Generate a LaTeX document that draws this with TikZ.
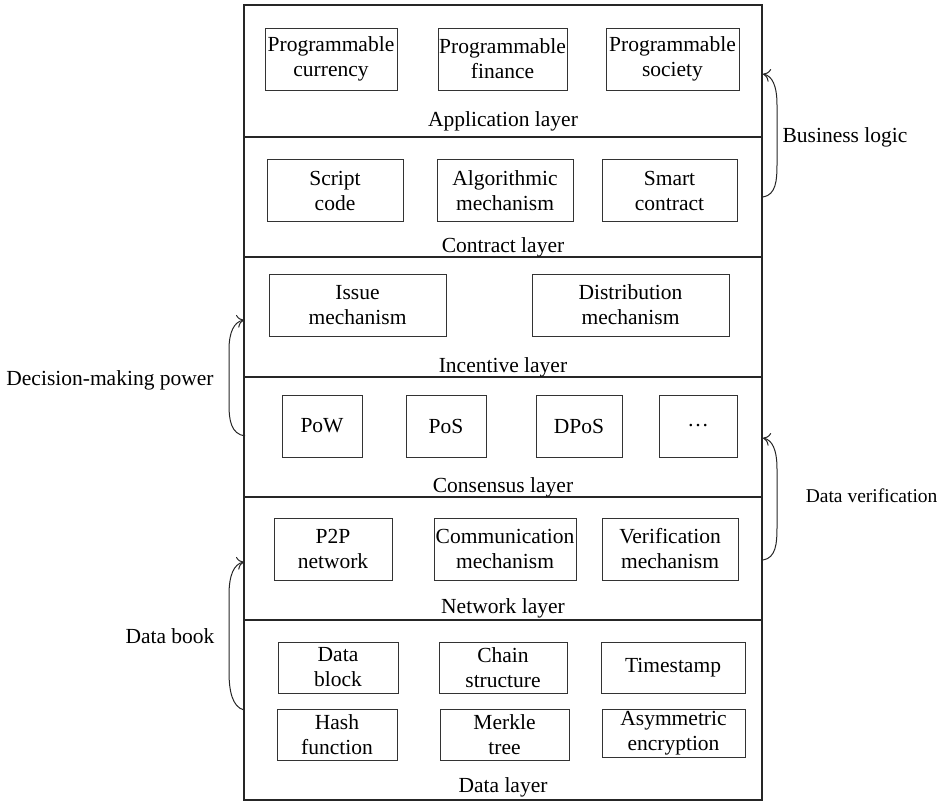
\documentclass[tikz,border=0pt]{standalone}
\usepackage{fontspec}
\setmainfont{Liberation Serif}
\usepackage{tikz}
\usetikzlibrary{arrows.meta}

\begin{document}
\begin{tikzpicture}[x=1pt,y=-1pt,line width=1pt,
  font=\fontsize{21.5}{25}\selectfont,
  blk/.style={draw=black!80,align=center,inner sep=0pt,minimum height=62},
  lyr/.style={anchor=center},
  side/.style={anchor=center},
  curvarr/.style={black!85,-{To[length=7pt,width=13pt]}}]
\useasboundingbox (0,0) rectangle (938,803);
% outer frame and layer dividers
\draw[line width=1.2pt,black!85] (244,5) rectangle (762,800);
\foreach \y in {137,257,377,497,620}
  \draw[line width=1.2pt,black!85] (244,\y)--(762,\y);
% application layer
\node[blk,minimum width=132] (cur) at (331,59) {Programmable\\currency};
\node[blk,minimum width=129] (fin) at (502.5,59) {Programmable\\finance};
\node[blk,minimum width=133] (soc) at (672.5,59) {Programmable\\society};
\node[lyr] (app) at (503,121) {Application layer};
% contract layer
\node[blk,minimum width=136] (scr) at (335,190.5) {Script\\code};
\node[blk,minimum width=136] (alg) at (505,190.5) {Algorithmic\\mechanism};
\node[blk,minimum width=135] (smt) at (669.5,190.5) {Smart\\contract};
\node[lyr] (con) at (503,247) {Contract layer};
% incentive layer
\node[blk,minimum width=177] (iss) at (357.5,305) {Issue\\mechanism};
\node[blk,minimum width=197] (dis) at (630.5,305) {Distribution\\mechanism};
\node[lyr] (inc) at (503,367) {Incentive layer};
% consensus layer
\node[blk,minimum width=80] (pow) at (322,426) {PoW};
\node[blk,minimum width=80] (pos) at (446,426) {PoS};
\node[blk,minimum width=86] (dpos) at (579,426) {DPoS};
\node[blk,minimum width=78] (etc) at (698,426) {\dots};
\node[lyr] (cns) at (503,487) {Consensus layer};
% network layer
\node[blk,minimum width=118] (p2p) at (333,549) {P2P\\network};
\node[blk,minimum width=142] (com) at (505,549) {Communication\\mechanism};
\node[blk,minimum width=136] (ver) at (670,549) {Verification\\mechanism};
\node[lyr] (net) at (503,608) {Network layer};
% data layer
\node[blk,minimum width=120,minimum height=51] (blc) at (338,667.5) {Data\\block};
\node[blk,minimum width=128,minimum height=51] (chn) at (503,667.5) {Chain\\structure};
\node[blk,minimum width=144,minimum height=51] (tim) at (673,667.5) {Timestamp};
\node[blk,minimum width=120,minimum height=51] (hsh) at (337,735) {Hash\\function};
\node[blk,minimum width=129,minimum height=51] (mrk) at (504.5,735) {Merkle\\tree};
\node[blk,minimum width=143,minimum height=48] (asy) at (673.5,733) {Asymmetric\\encryption};
\node[lyr] (dat) at (503,787) {Data layer};
% side labels
\node[side] (biz) at (845,137) {Business logic};
\node[side,anchor=west,font=\fontsize{19.5}{23}\selectfont] (dver) at (802,496) {Data verification};
\node[side] (dec) at (110,380) {Decision-making power};
\node[side] (book) at (170,636) {Data book};
% curved arrows
\coordinate (bz0) at (763,197); \coordinate (bz1) at (763,74);
\coordinate (dv0) at (763,560); \coordinate (dv1) at (763,438);
\coordinate (dm0) at (245,436); \coordinate (dm1) at (244,320);
\coordinate (db0) at (244,710); \coordinate (db1) at (244,562);
\draw[curvarr] (bz0) .. controls (776,195) and (777,180) .. (777,165) -- (777,105)
  .. controls (777,85) and (772,76) .. (bz1);
\draw[curvarr] (dv0) .. controls (776,558) and (777,543) .. (777,528) -- (777,469)
  .. controls (777,449) and (772,440) .. (dv1);
\draw[curvarr] (dm0) .. controls (231,434) and (229,420) .. (229,405) -- (229,350)
  .. controls (229,332) and (234,322) .. (dm1);
\draw[curvarr] (db0) .. controls (232,707) and (229,690) .. (229,672) -- (229,595)
  .. controls (229,575) and (234,564) .. (db1);
\end{tikzpicture}
\end{document}
